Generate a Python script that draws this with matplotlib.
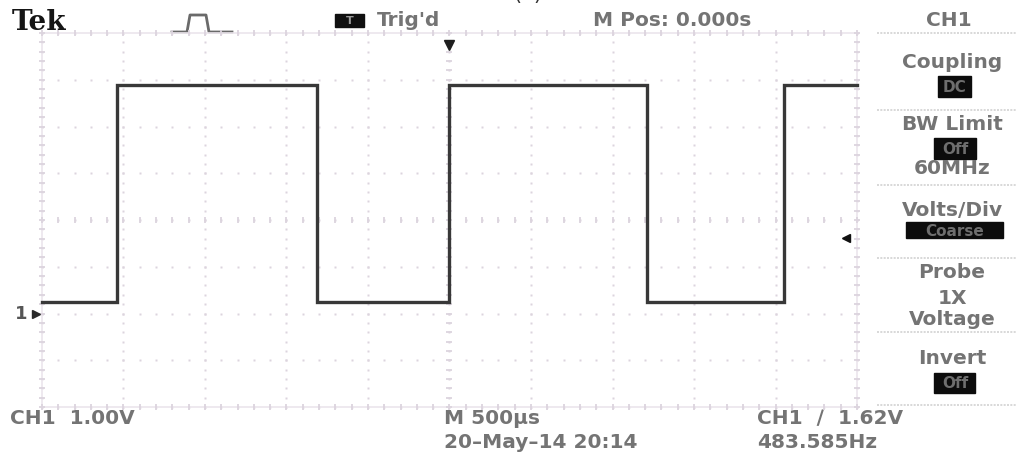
import numpy as np
import matplotlib
matplotlib.use('Agg')
import matplotlib.pyplot as plt
from matplotlib.patches import Rectangle

# CH1 square wave: 500 us/div, 1.00 V/div, trigger at t = 0
edge_times_ms = [-2.5, -2.04, -0.81, 0.0, 1.21, 2.05, 2.5]
edge_levels_v = [0.24, 4.88, 0.24, 4.88, 0.24, 4.88, 4.88]
trig_level_v = 1.62
time_per_div_ms = 0.5
volts_per_div = 1.0
n_xdiv, n_ydiv = 10, 8
ground_div_below_center = 2

header_texts = ["Trig'd", "M Pos: 0.000s", "CH1"]
menu_titles = ["Coupling", "BW Limit", "Volts/Div", "Probe", "Invert"]
menu_boxes = ["DC", "Off", "Coarse", None, "Off"]
menu_extra = [None, "60MHz", None, "1X\nVoltage", None]
footer_left = ["CH1  1.00V"]
footer_mid = ["M 500\u00b5s", "20\u2013May\u201314 20:14"]
footer_right = ["CH1  \u2215  1.62V", "483.585Hz"]

W, H = 1019, 455
fig = plt.figure(figsize=(W / 100, H / 100), dpi=100)
fig.patch.set_facecolor('white')

# overlay in pixel coordinates for the screen annotations
ov = fig.add_axes([0, 0, 1, 1])
ov.set_xlim(0, W)
ov.set_ylim(H, 0)
ov.axis('off')

# graticule area
gx0, gx1, gy0, gy1 = 42, 857, 33, 407
ax = fig.add_axes([gx0 / W, (H - gy1) / H, (gx1 - gx0) / W, (gy1 - gy0) / H])
t0 = -n_xdiv / 2 * time_per_div_ms
t1 = n_xdiv / 2 * time_per_div_ms
v0 = -(n_ydiv / 2 - ground_div_below_center) * volts_per_div
v1 = (n_ydiv / 2 + ground_div_below_center) * volts_per_div
ax.set_xlim(t0, t1)
ax.set_ylim(v0, v1)
ax.axis('off')

grid_col = '#dcd4de'
xs_lines = np.linspace(t0, t1, n_xdiv + 1)
ys_lines = np.linspace(v0, v1, n_ydiv + 1)
ys_dots = np.linspace(v0, v1, n_ydiv * 5 + 1)
xs_dots = np.linspace(t0, t1, n_xdiv * 5 + 1)
for x in xs_lines:
    ax.plot(np.full_like(ys_dots, x), ys_dots, ls='none', marker='s', ms=1.8,
            mec='none', mfc=grid_col, clip_on=False)
for y in ys_lines:
    ax.plot(xs_dots, np.full_like(xs_dots, y), ls='none', marker='s', ms=1.8,
            mec='none', mfc=grid_col, clip_on=False)

# frame and center-cross tick marks
ax.plot([t0, t1, t1, t0, t0], [v0, v0, v1, v1, v0], color='#ebe5ec', lw=1.2, clip_on=False)
vc = v0 + n_ydiv / 2 * volts_per_div
for x in (t0, 0.0, t1):
    ax.plot(np.full_like(ys_dots, x), ys_dots, ls='none', marker='_', ms=5,
            mew=1.3, color=grid_col, clip_on=False)
for y in (v0, vc, v1):
    ax.plot(xs_dots, np.full_like(xs_dots, y), ls='none', marker='|', ms=5,
            mew=1.3, color=grid_col, clip_on=False)

# trace
ax.step(edge_times_ms, edge_levels_v, where='post', color='#383838', lw=2.4,
        solid_joinstyle='miter', clip_on=False)

# trigger position, trigger level and ground markers
ax.plot(0.0, v1 - 0.25 * volts_per_div, marker='v', ms=7, color='#1e1e1e', clip_on=False)
ax.plot(t1 - 0.07, trig_level_v, marker='<', ms=6, color='#111111', clip_on=False)
ax.plot(t0 - 0.035, 0.0, marker='>', ms=6, color='#2a2a2a', clip_on=False)
ov.text(21, 314, "1", fontsize=13, fontweight='bold', color='#555555', ha='center', va='center')

txt = dict(family='DejaVu Sans', color='#747474', fontsize=14.5, fontweight='bold')

# header
ov.text(12, 22, "Tek", family='DejaVu Serif', fontweight='bold', fontsize=20,
        color='#151515', va='center', ha='left')
ov.plot([172, 187, 190, 206, 209, 232], [32, 32, 15, 15, 32, 32], color='#6a6a6a', lw=2)
ov.add_patch(Rectangle((335, 14), 29, 13, color='#101010'))
ov.text(349.5, 20.5, "T", fontsize=8, color='#9a9a9a', ha='center', va='center', fontweight='bold')
ov.text(377, 21, header_texts[0], ha='left', va='center', **txt)
ov.text(593, 21, header_texts[1], ha='left', va='center', **txt)
ov.text(949, 21, header_texts[2], ha='center', va='center', **txt)
ov.text(528, 0, "(a)", fontsize=15, color='#333333', ha='center', va='baseline')

# right-hand menu
mx = 952
for y in [33, 110, 185, 258, 332, 405]:
    ov.plot([877, 1017], [y, y], color='#d2d2d2', lw=1.2, ls=(0, (1.2, 0.8)))

title_y = [62, 125, 210, 273, 358]
box_y = [86, 148, 230, None, 383]
box_w = [33, 42, 97, None, 41]
box_h = [21, 21, 16, None, 20]
extra_y = [None, 168, None, 309, None]
for i, title in enumerate(menu_titles):
    ov.text(mx, title_y[i], title, ha='center', va='center', **txt)
    if menu_boxes[i] is not None:
        w, h = box_w[i], box_h[i]
        ov.add_patch(Rectangle((mx + 3 - w / 2, box_y[i] - h / 2), w, h, color='#0c0c0c'))
        ov.text(mx + 3, box_y[i] + 1, menu_boxes[i], ha='center', va='center',
                fontsize=11, fontweight='bold', color='#6e6e6e')
    if menu_extra[i] is not None:
        ov.text(mx, extra_y[i], menu_extra[i], ha='center', va='center',
                linespacing=1.15, **txt)

# footer
ov.text(10, 419, footer_left[0], ha='left', va='center', **txt)
ov.text(444, 419, footer_mid[0], ha='left', va='center', **txt)
ov.text(444, 443, footer_mid[1], ha='left', va='center', **txt)
ov.text(757, 419, footer_right[0], ha='left', va='center', **txt)
ov.text(757, 443, footer_right[1], ha='left', va='center', **txt)

fig.savefig('out.png', dpi=100, facecolor='white')
